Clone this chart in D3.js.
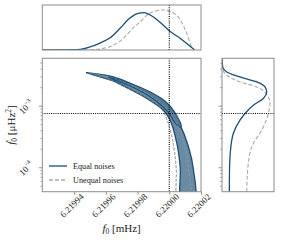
<!DOCTYPE html>
<html>
<head>
<meta charset="utf-8">
<script src="https://cdn.jsdelivr.net/npm/d3@7"></script>
<style>
  body { margin: 0; background: #fff; }
  svg { display: block; font-family: "Liberation Serif", "DejaVu Serif", serif; }
</style>
</head>
<body>
<div id="chart"></div>
<script>
// ---------- data ----------
const f0Ticks = [6.21994, 6.21996, 6.21998, 6.22000, 6.22002];
const fdotTicks = [1e-4, 1e-3];
const f0True = 6.22000;
const fdotTrue = 7.6e-4;
const legendLabels = ['Equal noises', 'Unequal noises'];

// 2D credible regions, equal noises (outer = upper edge then lower edge back to tip)
const outerF0 = [6.21994757, 6.21996479, 6.21998587, 6.22000057, 6.22000687, 6.22001211, 6.22001527, 6.22001600,
                 6.22000810, 6.22000687, 6.22000479, 6.22000057, 6.21999634, 6.21998587, 6.21996479];
const outerFdot = [3.52e-3, 2.985e-3, 1.706e-3, 9.18e-4, 4.92e-4, 2.19e-4, 9.18e-5, 2.5e-5,
                   2.5e-5, 1.04e-4, 2.48e-4, 5.93e-4, 8.61e-4, 1.334e-3, 2.57e-3];
const innerF0 = [6.21996145, 6.21998164, 6.21999741, 6.22000498, 6.22000751,
                 6.22000435, 6.21999930, 6.21999110, 6.21997848, 6.21996587];
const innerFdot = [3.006e-3, 2.032e-3, 1.205e-3, 6.89e-4, 4.57e-4,
                   5.11e-4, 8.0e-4, 1.251e-3, 1.959e-3, 2.636e-3];
// unequal noises outer region
const grayF0 = [6.21994883, 6.21996460, 6.21998542, 6.21999930, 6.22000561, 6.22001003, 6.22001224, 6.22001300,
                6.22000580, 6.22000435, 6.22000246, 6.21999867, 6.21999426, 6.21998479, 6.21996460];
const grayFdot = [3.49e-3, 2.90e-3, 1.626e-3, 8.61e-4, 4.57e-4, 2.08e-4, 9.18e-5, 2.5e-5,
                  2.5e-5, 1.026e-4, 2.51e-4, 5.93e-4, 9.64e-4, 1.40e-3, 2.59e-3];

// marginal of f0
const margF0 = [6.21992, 6.219931, 6.219944, 6.219950, 6.219956, 6.219963, 6.219969, 6.219975,
                6.219980, 6.219984, 6.219988, 6.219994, 6.220000, 6.220007, 6.220016];
const margF0Equal = [0, 0.003, 0.017, 0.075, 0.167, 0.311, 0.54, 0.789,
                     0.908, 0.928, 0.871, 0.697, 0.48, 0.286, 0];
const margF0b = [6.21992, 6.219944, 6.219952, 6.219958, 6.219965, 6.219971, 6.219977, 6.219982,
                 6.219986, 6.219992, 6.219996, 6.220001, 6.220007, 6.220011, 6.220014, 6.2200157];
const margF0Unequal = [0, 0, 0.003, 0.037, 0.124, 0.286, 0.54, 0.709,
                       0.871, 0.978, 0.996, 0.953, 0.747, 0.416, 0.082, 0];

// marginal of fdot
const margFdot = [4.08e-5, 9.18e-5, 1.94e-4, 3.61e-4, 5.93e-4, 7.62e-4, 1.038e-3, 1.334e-3,
                  1.706e-3, 2.056e-3, 2.477e-3, 2.985e-3, 3.597e-3, 4.33e-3, 6.0e-3];
const margFdotEqual = [0.152, 0.156, 0.177, 0.235, 0.374, 0.478, 0.65, 0.858,
                       0.928, 0.893, 0.721, 0.374, 0.098, 0.015, 0];
const margFdotb = [4.08e-5, 1.18e-4, 2.48e-4, 4.08e-4, 7.62e-4, 1.107e-3, 1.416e-3, 2.056e-3,
                   2.477e-3, 3.177e-3, 4.1e-3, 6.0e-3];
const margFdotUnequal = [0.513, 0.546, 0.65, 0.825, 0.962, 0.997, 0.962, 0.721,
                         0.374, 0.098, 0.01, 0];

// ---------- layout ----------
const W = 281, H = 241;
const main = { left: 42.3, right: 201, top: 58.3, bottom: 191.7 };
const topP = { top: 5, bottom: 50 };
const side = { left: 222, right: 274 };

const blue = '#1d4e72', fillOuter = '#6a8ba4', fillInner = '#557a96', gray = '#aaaaaa', frame = '#8c8c8c';

const svg = d3.select('#chart').append('svg').attr('width', W).attr('height', H);

const x = d3.scaleLinear().domain([6.21992, 6.22002]).range([main.left, main.right]);
const y = d3.scaleLog().domain([Math.pow(10, -4.389), Math.pow(10, -2.222)]).range([main.bottom, main.top]);
const yTop = d3.scaleLinear().domain([0, 1.12]).range([topP.bottom, topP.top]);
const xSide = d3.scaleLinear().domain([0, 1.08]).range([side.left, side.right]);

const defs = svg.append('defs');
function clip(id, x0, y0, x1, y1) {
  defs.append('clipPath').attr('id', id).append('rect')
    .attr('x', x0).attr('y', y0).attr('width', x1 - x0).attr('height', y1 - y0);
}
clip('cMain', main.left, main.top, main.right, main.bottom);
clip('cTop', main.left, topP.top, main.right, topP.bottom);
clip('cSide', side.left, main.top, side.right, main.bottom);

const zip = (a, b) => a.map((v, i) => [v, b[i]]);

/* ---------- main panel ---------- */
const gMain = svg.append('g').attr('clip-path', 'url(#cMain)');
const region = d3.line().x(d => x(d[0])).y(d => y(d[1])).curve(d3.curveCatmullRom.alpha(0.5));
const closed = pts => region(pts) + 'Z';
const grayPath = closed(zip(grayF0, grayFdot));

// unequal noises underneath, then equal noises filled on top
gMain.append('path').attr('d', grayPath)
  .attr('fill', 'none').attr('stroke', gray).attr('stroke-width', 1.1).attr('stroke-dasharray', '3,1.5');
gMain.append('path').attr('d', closed(zip(outerF0, outerFdot)))
  .attr('fill', fillOuter).attr('stroke', blue).attr('stroke-width', 1.3);
gMain.append('path').attr('d', closed(zip(innerF0, innerFdot)))
  .attr('fill', fillInner).attr('stroke', blue).attr('stroke-width', 1.1);
gMain.append('path').attr('d', grayPath)
  .attr('fill', 'none').attr('stroke', gray).attr('stroke-opacity', 0.45)
  .attr('stroke-width', 1).attr('stroke-dasharray', '3,1.5');

gMain.append('line').attr('x1', x(f0True)).attr('x2', x(f0True)).attr('y1', main.top).attr('y2', main.bottom)
  .attr('stroke', '#000').attr('stroke-width', 1.1).attr('stroke-dasharray', '1,1.2');
gMain.append('line').attr('x1', main.left).attr('x2', main.right).attr('y1', y(fdotTrue)).attr('y2', y(fdotTrue))
  .attr('stroke', '#000').attr('stroke-width', 1.1).attr('stroke-dasharray', '1,1.2');

// legend
const leg = svg.append('g');
legendLabels.forEach((lab, i) => {
  const ly = 166 + i * 14;
  leg.append('line').attr('x1', 49).attr('x2', 67).attr('y1', ly).attr('y2', ly)
    .attr('stroke', i === 0 ? blue : gray).attr('stroke-width', 1.3)
    .attr('stroke-dasharray', i === 0 ? null : '4,2');
  leg.append('text').attr('x', 73).attr('y', ly + 2.8).attr('font-size', 8.2).attr('fill', '#222').text(lab);
});

svg.append('rect').attr('x', main.left).attr('y', main.top)
  .attr('width', main.right - main.left).attr('height', main.bottom - main.top)
  .attr('fill', 'none').attr('stroke', frame).attr('stroke-width', 1);

// x axis
const xAxis = svg.append('g').attr('transform', `translate(0,${main.bottom})`)
  .call(d3.axisBottom(x).tickValues(f0Ticks).tickSize(3).tickFormat(''));
xAxis.select('.domain').remove();
xAxis.selectAll('line').attr('stroke', frame);
svg.append('g').selectAll('text').data(f0Ticks).enter().append('text')
  .attr('transform', d => `translate(${x(d)},${main.bottom + 16}) rotate(-45)`)
  .attr('text-anchor', 'middle').attr('font-size', 9).attr('fill', '#222')
  .text(d => d3.format('.5f')(d));

// y axis (log with minor ticks)
function logTicks(g, withLabels) {
  const minor = y.ticks().filter(t => !fdotTicks.includes(t));
  g.selectAll('.minor').data(minor).enter().append('line')
    .attr('x1', -2).attr('x2', 0).attr('y1', d => y(d)).attr('y2', d => y(d))
    .attr('stroke', frame).attr('stroke-width', 0.7);
  g.selectAll('.major').data(fdotTicks).enter().append('line')
    .attr('x1', -3.5).attr('x2', 0).attr('y1', d => y(d)).attr('y2', d => y(d))
    .attr('stroke', frame).attr('stroke-width', 0.9);
  if (withLabels) {
    const t = g.selectAll('.lab').data(fdotTicks).enter().append('text')
      .attr('transform', d => `translate(-14,${y(d) + 3}) rotate(-45)`)
      .attr('text-anchor', 'middle').attr('font-size', 9).attr('fill', '#222');
    t.append('tspan').text('10');
    t.append('tspan').attr('dy', -4).attr('font-size', 6).text(d => '\u2212' + Math.round(-Math.log10(d)));
  }
}
logTicks(svg.append('g').attr('transform', `translate(${main.left},0)`), true);

// axis labels
const xl = svg.append('text').attr('x', (main.left + main.right) / 2).attr('y', 232)
  .attr('text-anchor', 'middle').attr('font-size', 11).attr('fill', '#222');
xl.append('tspan').attr('font-style', 'italic').text('f');
xl.append('tspan').attr('font-size', 7.5).attr('dy', 2).text('0');
xl.append('tspan').attr('dy', -2).text(' [mHz]');

const yl = svg.append('text').attr('transform', `translate(15,${(main.top + main.bottom) / 2}) rotate(-90)`)
  .attr('text-anchor', 'middle').attr('font-size', 11).attr('fill', '#222');
yl.append('tspan').attr('font-style', 'italic').text('\u1E1F');
yl.append('tspan').attr('font-size', 7.5).attr('dy', 2).text('0');
yl.append('tspan').attr('dy', -2).text(' [\u03BCHz');
yl.append('tspan').attr('font-size', 7.5).attr('dy', -4).text('2');
yl.append('tspan').attr('dy', 4).text(']');

/* ---------- top marginal ---------- */
const gTop = svg.append('g').attr('clip-path', 'url(#cTop)');
const lineTop = d3.line().x(d => x(d[0])).y(d => yTop(d[1])).curve(d3.curveMonotoneX);
gTop.append('path').attr('d', lineTop(zip(margF0b, margF0Unequal)))
  .attr('fill', 'none').attr('stroke', gray).attr('stroke-width', 1.1).attr('stroke-dasharray', '4,2');
gTop.append('path').attr('d', lineTop(zip(margF0, margF0Equal)))
  .attr('fill', 'none').attr('stroke', blue).attr('stroke-width', 1.3);
gTop.append('line').attr('x1', x(f0True)).attr('x2', x(f0True)).attr('y1', topP.top).attr('y2', topP.bottom)
  .attr('stroke', '#000').attr('stroke-width', 1.1).attr('stroke-dasharray', '1,1.2');
svg.append('rect').attr('x', main.left).attr('y', topP.top)
  .attr('width', main.right - main.left).attr('height', topP.bottom - topP.top)
  .attr('fill', 'none').attr('stroke', frame).attr('stroke-width', 1);

/* ---------- side marginal ---------- */
const gSide = svg.append('g').attr('clip-path', 'url(#cSide)');
const lineSide = d3.line().x(d => xSide(d[1])).y(d => y(d[0])).curve(d3.curveMonotoneY);
gSide.append('path').attr('d', lineSide(zip(margFdotb, margFdotUnequal)))
  .attr('fill', 'none').attr('stroke', gray).attr('stroke-width', 1.1).attr('stroke-dasharray', '4,2');
gSide.append('path').attr('d', lineSide(zip(margFdot, margFdotEqual)))
  .attr('fill', 'none').attr('stroke', blue).attr('stroke-width', 1.3);
gSide.append('line').attr('x1', side.left).attr('x2', side.right).attr('y1', y(fdotTrue)).attr('y2', y(fdotTrue))
  .attr('stroke', '#000').attr('stroke-width', 1.1).attr('stroke-dasharray', '1,1.2');
svg.append('rect').attr('x', side.left).attr('y', main.top)
  .attr('width', side.right - side.left).attr('height', main.bottom - main.top)
  .attr('fill', 'none').attr('stroke', frame).attr('stroke-width', 1);
logTicks(svg.append('g').attr('transform', `translate(${side.left},0)`), false);
</script>
</body>
</html>
